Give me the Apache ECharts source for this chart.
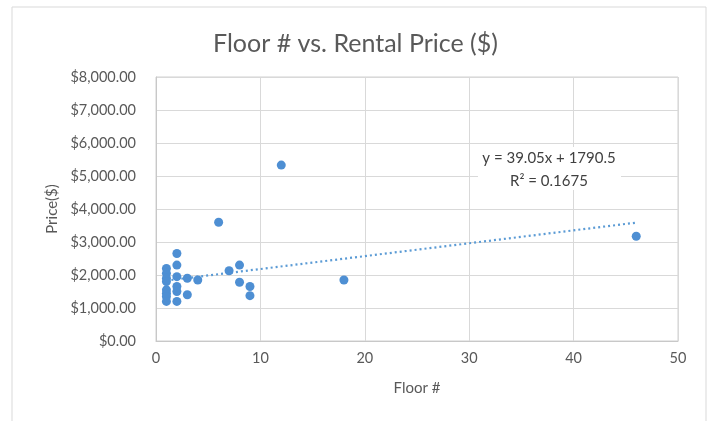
<!DOCTYPE html>
<html><head><meta charset="utf-8">
<script src="https://cdn.jsdelivr.net/npm/echarts@6/dist/echarts.min.js"></script>
<style>html,body{margin:0;padding:0;background:#fff}#c{width:711px;height:421px}</style>
</head><body><div id="c"></div>
<script>
const floors = [1,1,1,1,1,1,1,1, 2,2,2,2,2,2, 3,3, 4, 6, 7, 8,8, 9,9, 12, 18, 46];
const prices = [2200,2050,1900,1800,1550,1450,1350,1200, 2650,2300,1950,1650,1500,1200, 1900,1400, 1850, 3600, 2130, 2300,1780, 1650,1375, 5330, 1850, 3175];
const trendX = [1, 46];
const trendY = [1830, 3587];
const xTicks = [0,10,20,30,40,50];
const yTicks = [0,1000,2000,3000,4000,5000,6000,7000,8000];
const equationText = 'y = 39.05x + 1790.5';
const r2Text = 'R² = 0.1675';
const titleText = 'Floor # vs. Rental Price ($)';

const font = 'Lato, "Open Sans", sans-serif';
const chart = echarts.init(document.getElementById('c'), null, {renderer:'canvas'});
chart.setOption({
  animation:false,
  backgroundColor:'#fff',
  title:{text:titleText,left:'center',top:26,textStyle:{fontFamily:font,fontSize:25,fontWeight:'normal',color:'#595959'}},
  grid:{left:156,right:33,top:77,bottom:80,show:true,borderColor:'#d0d0d0',borderWidth:1},
  xAxis:{type:'value',min:xTicks[0],max:xTicks[xTicks.length-1],interval:10,
    name:'Floor #',nameLocation:'middle',nameGap:40,
    nameTextStyle:{fontFamily:font,fontSize:15,color:'#595959'},
    axisLine:{show:true,lineStyle:{color:'#c8c8c8'}},axisTick:{show:false},
    axisLabel:{fontFamily:font,fontSize:14.5,color:'#595959',margin:10},
    splitLine:{show:true,lineStyle:{color:'#d9d9d9'}}},
  yAxis:{type:'value',min:yTicks[0],max:yTicks[yTicks.length-1],interval:1000,
    name:'Price($)',nameLocation:'middle',nameGap:96,nameRotate:90,
    nameTextStyle:{fontFamily:font,fontSize:15,color:'#595959'},
    axisLine:{show:true,lineStyle:{color:'#c8c8c8'}},axisTick:{show:false},
    axisLabel:{fontFamily:font,fontSize:14.5,color:'#595959',margin:20,
      formatter:v=>'$'+v.toLocaleString('en-US',{minimumFractionDigits:2,maximumFractionDigits:2})},
    splitLine:{show:true,lineStyle:{color:'#d9d9d9'}}},
  series:[
    {type:'line',data:trendX.map((x,i)=>[x,trendY[i]]),showSymbol:false,symbol:'none',
      lineStyle:{color:'#5b9bd5',width:2.2,type:[2,3]},z:1,silent:true},
    {type:'scatter',data:floors.map((f,i)=>[f,prices[i]]),symbol:'circle',symbolSize:9,
      itemStyle:{color:'#4e8fd3',opacity:1},z:2}
  ],
  graphic:[
    {type:'rect',shape:{x:12,y:7,width:694,height:420},style:{fill:'none',stroke:'#d9d9d9',lineWidth:1},silent:true,z:-1},
    {type:'rect',shape:{x:478,y:147,width:143,height:43},style:{fill:'#fff'},silent:true,z:10},
    {type:'text',x:549,y:158,z:11,style:{text:equationText,fontFamily:font,fontSize:15,fill:'#404040',align:'center',verticalAlign:'middle'}},
    {type:'text',x:549,y:181,z:11,style:{text:r2Text,fontFamily:font,fontSize:15,fill:'#404040',align:'center',verticalAlign:'middle'}}
  ]
});
</script></body></html>
